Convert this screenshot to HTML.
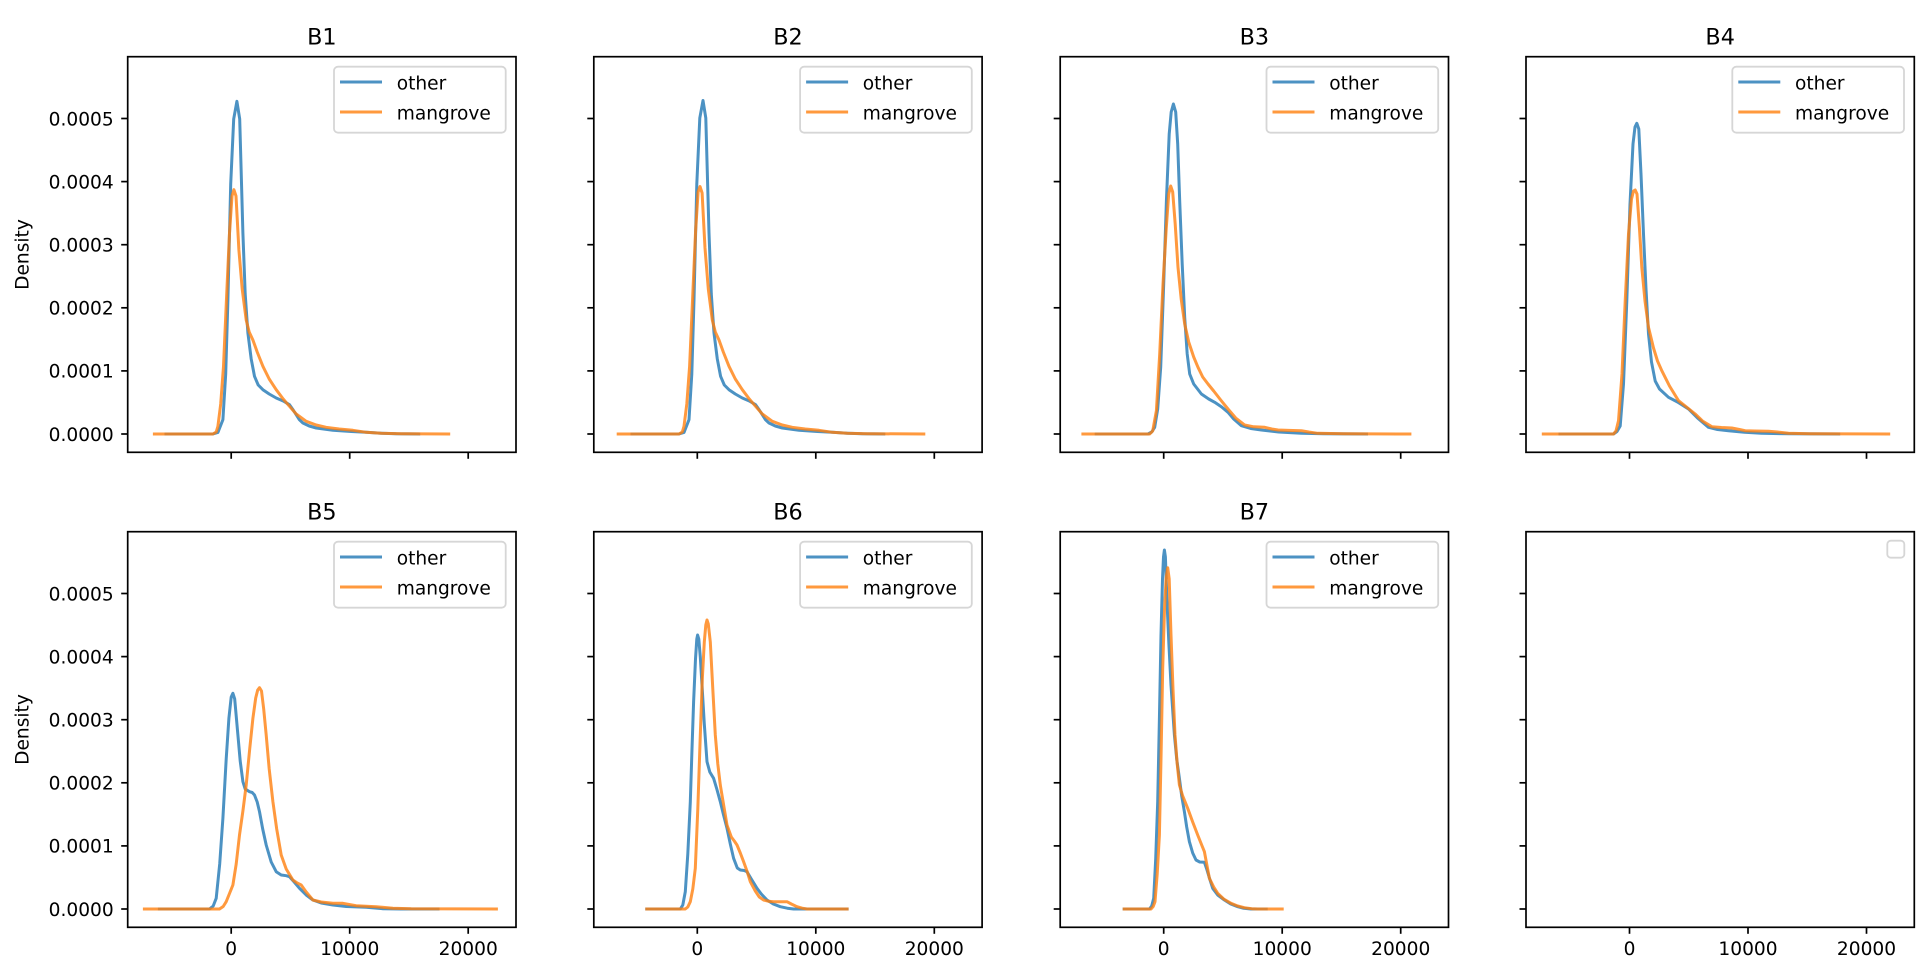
<!DOCTYPE html>
<html><head><meta charset="utf-8"><style>
html,body{margin:0;padding:0;background:#fff;}
svg{display:block;}
text{font-family:"DejaVu Sans","Liberation Sans",sans-serif;fill:#000;}
.t{font-size:18.6px;}
.ti{font-size:22.3px;text-anchor:middle;}
.ax{fill:none;stroke:#000;stroke-width:1.7;}
.tk{stroke:#000;stroke-width:1.7;}
.b{fill:none;stroke:#1f77b4;stroke-opacity:0.8;stroke-width:3;stroke-linejoin:round;stroke-linecap:butt;}
.o{fill:none;stroke:#ff7f0e;stroke-opacity:0.8;stroke-width:3;stroke-linejoin:round;stroke-linecap:butt;}
.lg{fill:#fff;fill-opacity:0.8;stroke:#cccccc;stroke-opacity:0.8;stroke-width:1.8;}
</style></head><body>
<svg width="1928" height="978" viewBox="0 0 1928 978" xmlns="http://www.w3.org/2000/svg">
<rect width="1928" height="978" fill="#fff"/>
<defs>
<g id="frame">
<rect class="ax" x="0" y="0" width="388.3" height="395.6"/>
<line class="tk" x1="-6.5" x2="0" y1="377.3" y2="377.3"/>
<line class="tk" x1="-6.5" x2="0" y1="314.2" y2="314.2"/>
<line class="tk" x1="-6.5" x2="0" y1="251.1" y2="251.1"/>
<line class="tk" x1="-6.5" x2="0" y1="188.0" y2="188.0"/>
<line class="tk" x1="-6.5" x2="0" y1="124.9" y2="124.9"/>
<line class="tk" x1="-6.5" x2="0" y1="61.8" y2="61.8"/>
<line class="tk" x1="103.5" x2="103.5" y1="395.6" y2="402.1"/>
<line class="tk" x1="222" x2="222" y1="395.6" y2="402.1"/>
<line class="tk" x1="340.5" x2="340.5" y1="395.6" y2="402.1"/>
</g>
<g id="legend">
<rect class="lg" x="206.3" y="10" width="171.7" height="66" rx="4" ry="4"/>
<line x1="212.3" x2="254.3" y1="25.3" y2="25.3" stroke="#1f77b4" stroke-opacity="0.8" stroke-width="3"/>
<line x1="212.3" x2="254.3" y1="55.3" y2="55.3" stroke="#ff7f0e" stroke-opacity="0.8" stroke-width="3"/>
<text class="t" x="269" y="32.8">other</text>
<text class="t" x="269" y="62.8">mangrove</text>
</g>
<g id="ylabels">
<text class="t" text-anchor="end" x="-14" y="384.1">0.0000</text>
<text class="t" text-anchor="end" x="-14" y="321.0">0.0001</text>
<text class="t" text-anchor="end" x="-14" y="257.9">0.0002</text>
<text class="t" text-anchor="end" x="-14" y="194.8">0.0003</text>
<text class="t" text-anchor="end" x="-14" y="131.7">0.0004</text>
<text class="t" text-anchor="end" x="-14" y="68.6">0.0005</text>
<text class="t" text-anchor="middle" transform="translate(-99.2,197.8) rotate(-90)">Density</text>
</g>
<g id="xlabels">
<text class="t" text-anchor="middle" x="103.5" y="423.3">0</text>
<text class="t" text-anchor="middle" x="222" y="423.3">10000</text>
<text class="t" text-anchor="middle" x="340.5" y="423.3">20000</text>
</g>
</defs>

<!-- B1 -->
<g transform="translate(127.7,56.7)">
<use href="#frame"/>
<use href="#ylabels"/>
<text class="ti" x="194.15" y="-12.3">B1</text>
<g transform="translate(103.5,377.3) scale(1,-1)">
<polyline class="b" points="-66.7,0 -18.3,0 -13.3,1.5 -8.3,14.3 -5.5,60 -3.3,134 -0.5,250 2.5,315 5.7,332.7 8.5,315 11.7,201 14,140 16.7,101 20,75 23.3,57.7 27,49 31.7,44.3 38,40 45,36 52,33 58.3,29.3 62,24 65,19.3 68,14.5 71.7,11 78,8 85,6 101.7,3.7 120,2.5 135,1.7 150,0.8 165,0.2 189,0"/>
<polyline class="o" points="-78.3,0 -18.3,0 -15,2 -13.3,7.7 -10.5,30 -7.7,67.7 -4.5,140 -1.7,201 0.8,238 2.7,244.3 4.8,238 7.7,184 11,145 15,114 18,102 21.7,94 26,82 31.7,67.7 38,55 45,44.3 52,35 58.3,27.7 65,20 75,12.7 85,9 95,6.7 108,5 121.7,3.7 135,1.7 150,0.8 170,0.3 219,0"/>
</g>
<use href="#legend"/>
</g>

<!-- B2 -->
<g transform="translate(593.8,56.7)">
<use href="#frame"/>
<text class="ti" x="194.15" y="-12.3">B2</text>
<g transform="translate(103.5,377.3) scale(1,-1)">
<polyline class="b" points="-66.8,0 -18.3,0 -13.3,1.5 -8.3,14.3 -5.5,60 -3.3,134 -0.5,250 2.5,316 5.7,333.5 8.5,316 11.7,201 14,140 16.7,101 20,75 23.3,57.7 27,49 31.7,44.3 38,40 45,36 52,33 58.3,29.3 62,24 65,19.3 68,14.5 71.7,11 78,8 85,6 101.7,3.7 120,2.5 135,1.7 150,0.8 165,0.2 188,0"/>
<polyline class="o" points="-80.6,0 -18.3,0 -15,2 -13.3,7.7 -10.5,30 -7.7,67.7 -4.5,140 -1.7,203 0.8,242 2.7,247.5 4.8,241 7.7,186 11,145 15,114 18,102 21.7,94 26,82 31.7,67.7 38,55 45,44.3 52,35 58.3,27.7 65,20 75,12.7 85,9 95,6.7 108,5 121.7,3.7 135,1.7 150,0.8 170,0.3 228,0"/>
</g>
<use href="#legend"/>
</g>

<!-- B3 -->
<g transform="translate(1060.2,56.7)">
<use href="#frame"/>
<text class="ti" x="194.15" y="-12.3">B3</text>
<g transform="translate(103.5,377.3) scale(1,-1)">
<polyline class="b" points="-69,0 -15.7,0 -12,2 -9,6.7 -6,25 -3,66.7 0,150 2.7,233 5.5,300 7.5,322 9.7,330 12,322 14,290 16,233 18.5,170 21,116.7 23.5,80 26,60 30,50 37.7,40 45,35 51,31.7 58,27 64.3,21.7 70,15 77.7,8.3 87,5.5 97.7,4 115,2 137.7,0.7 160,0.2 204.3,0"/>
<polyline class="o" points="-82.3,0 -14,0 -11,3 -7.3,23.3 -4,80 -0.7,150 2.5,205 5,240 7,248 9,242 11.5,210 14.3,166.7 17.5,135 21,110 25,92 30,77 34.3,66.7 39,57 44.3,50 50,43 57,34 64.3,25 72,16 81,9 90,7.2 101,6.7 108,5 114.3,4 125,3.6 137.7,3.3 145,2 154,0.7 180,0.2 247.7,0"/>
</g>
<use href="#legend"/>
</g>

<!-- B4 -->
<g transform="translate(1526,56.7)">
<use href="#frame"/>
<text class="ti" x="194.15" y="-12.3">B4</text>
<g transform="translate(103.5,377.3) scale(1,-1)">
<polyline class="b" points="-71,0 -16,0 -12.5,2.5 -9.3,8 -6,50 -2.7,133 0.5,230 3.5,290 5.5,307 7.3,310.7 9.3,305 11.5,260 14,200 16.5,145 19,100 22,72 25.7,53 30,45 39,36.7 48,32 59,25 68,16 79,6.7 88,4.5 99,3.3 115,1.8 132,0.7 160,0.2 210.7,0"/>
<polyline class="o" points="-87.7,0 -16,0 -13.5,3 -11,13.3 -7.5,60 -4.3,133 -1,200 2,235 4,243 5.7,244 7.5,240 10,205 12.3,166.7 15.5,133 19,106.7 24,86 28,73 32.3,63.3 40,48 49,33.3 57,27 65.7,20 73,13 82.3,7.3 92,6.5 102.3,6 110,4.5 115.7,3.3 125,3 139,2.7 150,1.8 159,0.7 180,0.2 260.7,0"/>
</g>
<use href="#legend"/>
</g>

<!-- B5 -->
<g transform="translate(127.7,531.7)">
<use href="#frame"/>
<use href="#ylabels"/>
<use href="#xlabels"/>
<text class="ti" x="194.15" y="-12.3">B5</text>
<g transform="translate(103.5,377.3) scale(1,-1)">
<polyline class="b" points="-73.3,0 -21.7,0 -18,3 -15,10.7 -11.5,45 -8.3,90.7 -5,150 -2.3,190.7 0,212 1.7,215.7 3.5,210 6.7,174 9,148 11.7,127.3 14,120 18.3,117.3 21,116.5 23.3,114 26,107 28.3,97.3 31.5,80 35,64 40,47 45,37.3 50,34 55,33.3 58.3,32.3 63,27 68.3,20.7 75,14 81.7,9 90,6 101.7,4 115,2.5 135,1.7 151.7,0.3 170,0 208.3,0"/>
<polyline class="o" points="-88.3,0 -11.7,0 -8,2.5 -5,7.3 -1.5,16 1.7,24 5,45 8.3,74 11.7,98 15,124 18.5,160 21.7,190.7 24.5,211 26.5,219 28.3,221.3 30.3,218 32.5,200 35,174 38,140 41.7,107.3 45.5,80 50,54 55,40 61.7,29 66,26 70,24 75,17 81.7,9 90,7 101.7,5.7 111.7,5.7 118,4.5 125,3.3 135,2.8 145,2.3 155,1.4 161.7,0.7 180,0.2 266.7,0"/>
</g>
<use href="#legend"/>
</g>

<!-- B6 -->
<g transform="translate(593.8,531.7)">
<use href="#frame"/>
<use href="#xlabels"/>
<text class="ti" x="194.15" y="-12.3">B6</text>
<g transform="translate(103.5,377.3) scale(1,-1)">
<polyline class="b" points="-52,0 -17,0 -14.5,4 -12,17.3 -9.5,55 -7,107 -5.3,160 -3.7,207 -1.8,250 -0.5,270 0.3,274 1.5,270 3,252 4.7,224 7,185 9.7,147.3 12.5,137 16.3,130.7 19.5,120 23,107.3 26,95 29.7,80.7 33,65 36.3,50.7 40,41 43,39 47,38.5 49.7,37.3 54,30 59.7,20.7 64,15 69.7,9 76,5 83,2.3 90,0.8 96.3,0 151.3,0"/>
<polyline class="o" points="-52,0 -12,0 -9.5,2 -7,7.3 -4.5,20 -2,40.7 0.5,100 3,174 5,230 7,267 8.5,284 9.7,289 11,285 13,267 15.5,220 18,174 20.5,145 23,124 26.5,103 29.7,84 34,72 37,68 39.7,64 43,56 46.3,47.3 50,37 53,27.3 58,18 62,12 66.3,9 71,7.8 76.3,7.3 83,7.3 89.7,7.3 94,5 99.7,2.3 105,0.8 109.7,0 151.3,0"/>
</g>
<use href="#legend"/>
</g>

<!-- B7 -->
<g transform="translate(1060.2,531.7)">
<use href="#frame"/>
<use href="#xlabels"/>
<text class="ti" x="194.15" y="-12.3">B7</text>
<g transform="translate(103.5,377.3) scale(1,-1)">
<polyline class="b" points="-41,0 -14.3,0 -12,3 -10,10.7 -8,50 -6,107.3 -4.3,190 -2.7,274 -1.2,330 -0.2,352 0.7,359 1.7,352 3.3,307 5.2,265 7.3,224 10.7,174 13,150 15.7,130.7 18,113 20.7,97.3 23,82 25.7,67.3 29,56 32.3,49 36,47 40.7,46.7 43,40 46,30 49,20.7 54,14 60.7,9 67,5 74,2.3 80,0.7 87.3,0 104,0"/>
<polyline class="o" points="-41,0 -12.7,0 -10.5,2.5 -8.7,7.3 -6.5,35 -4.3,74 -2.7,150 -1,240.7 0.8,300 2.4,330 4,341.3 5.5,330 7.3,274 9.3,220 11.3,174 13.5,145 15.7,124 19,113 24,100.7 29,87 34,74 38,64 40.7,57.3 43,45 45.7,30.7 50,22 54,15.7 60,10 67.3,5.7 74,3 80.7,1.3 88,0.3 94,0 120,0"/>
</g>
<use href="#legend"/>
</g>

<!-- empty 8th -->
<g transform="translate(1526,531.7)">
<use href="#frame"/>
<use href="#xlabels"/>
<rect class="lg" x="361.3" y="9" width="17" height="17" rx="3.5" ry="3.5"/>
</g>
</svg>
</body></html>
